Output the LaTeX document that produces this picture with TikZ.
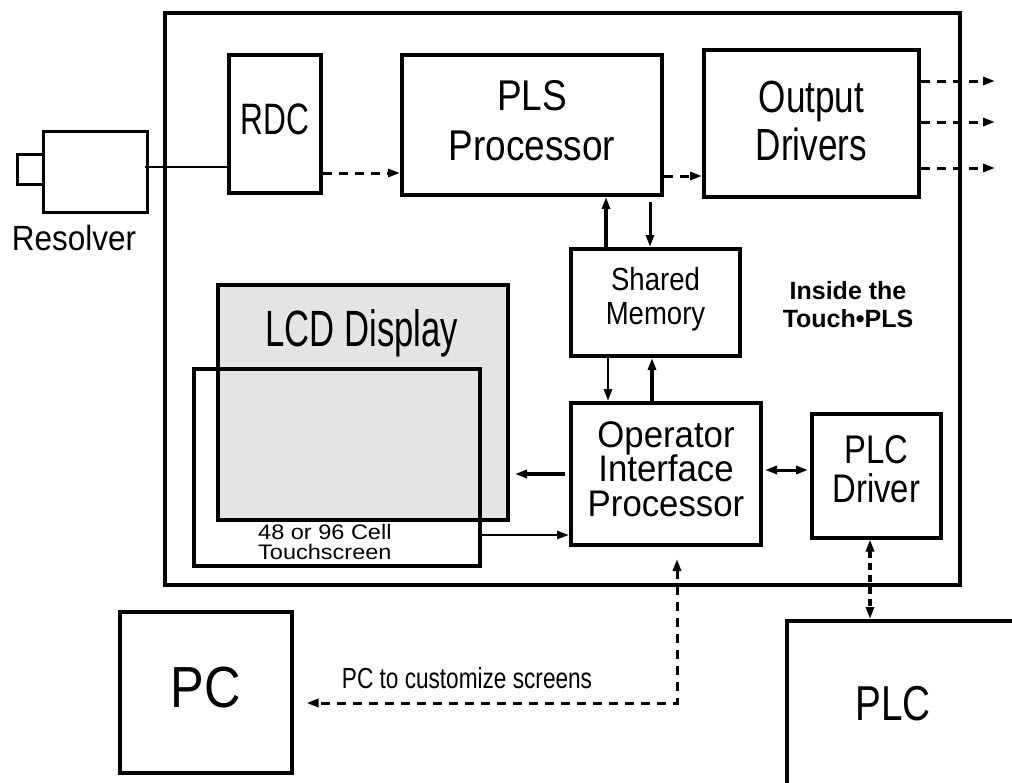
\documentclass[tikz,border=0pt]{standalone}
\usepackage{fontspec}
\setmainfont{Liberation Sans}
\usetikzlibrary{arrows.meta}
\definecolor{lcdgray}{HTML}{E4E4E4}
% condensed label font: stretch, size, baselineskip
\newcommand\lf[3]{\fontsize{#2}{#3}\selectfont\addfontfeature{FakeStretch=#1}}

\begin{document}
\begin{tikzpicture}[x=1pt,y=-1pt,
  box/.style={draw,line width=4pt,inner sep=0pt,align=center,anchor=north west},
  arr/.style={line width=3pt},
  dsh/.style={dash pattern=on 9pt off 7pt},
  >={Triangle[length=12pt,width=8pt]}]
\useasboundingbox (0,0) rectangle (1012,782);

% guide coordinates for connector rows and columns
\coordinate (y167) at (0,167);
\coordinate (y173) at (0,173);
\coordinate (y176) at (0,176);
\coordinate (y470) at (0,470);
\coordinate (y474) at (0,474);
\coordinate (y535) at (0,535);
\coordinate (y703) at (0,703);
\coordinate (x606) at (606,0);
\coordinate (x650) at (650,0);
\coordinate (x608) at (608,0);
\coordinate (x652) at (652,0);
\coordinate (x677) at (677,0);
\coordinate (x870) at (870,0);
\coordinate (o1) at (995,81);
\coordinate (o2) at (995,122);
\coordinate (o3) at (995,168);

% enclosure of the unit
\node[box,minimum width=795pt,minimum height=572pt] (tpls) at (163,11) {};

% resolver
\node[box,line width=3pt,minimum width=26pt,minimum height=30pt] (shaft) at (16,153) {};
\node[box,line width=3pt,minimum width=104pt,minimum height=81pt] (res) at (42,130) {};
\node[font=\lf{0.9}{35}{40},anchor=base] (reslabel) at (74,250) {Resolver};

% processing blocks
\node[box,minimum width=92pt,minimum height=138pt,text depth=10pt,font=\lf{0.72}{44}{50}] (rdc) at (227,53) {RDC};
\node[box,minimum width=260pt,minimum height=140pt,text depth=10pt,font=\lf{0.86}{43}{50}] (pls) at (400,53) {PLS\\Processor};
\node[box,minimum width=215pt,minimum height=147pt,text depth=6pt,font=\lf{0.78}{45}{48}] (out) at (702,48) {Output\\Drivers};
\node[box,minimum width=169pt,minimum height=107pt,text depth=14pt,font=\lf{0.86}{32}{34}] (sm) at (569,247) {Shared\\Memory};
\node[box,minimum width=190pt,minimum height=142pt,text depth=10pt,font=\lf{0.94}{37}{34.5}] (op) at (569,401) {Operator\\Interface\\Processor};
\node[box,line width=3.5pt,minimum width=129pt,minimum height=124pt,text depth=13pt,font=\lf{0.82}{40}{39}] (drv) at (810,412) {PLC\\Driver};

% display and touchscreen overlay
\node[box,fill=lcdgray,minimum width=290pt,minimum height=235pt] (lcd) at (216,283) {};
\node[font=\lf{0.68}{51}{55},anchor=base] (lcdlabel) at (362,346) {LCD Display};
\node[box,line width=3.5pt,minimum width=286pt,minimum height=197pt] (touch) at (192,367) {};
\node[font=\lf{1.12}{21}{20},align=left,anchor=north west,inner sep=0pt] (touchlabel) at (258,524) {48 or 96 Cell\\Touchscreen};

\node[font=\bfseries\fontsize{25}{28}\selectfont,align=center,anchor=north,inner sep=0pt] (inside) at (848,281) {Inside the\\Touch•PLS};

% external equipment
\node[box,line width=3.5pt,minimum width=172pt,minimum height=161pt,text depth=10pt,font=\lf{0.87}{58}{60}] (pc) at (118,610) {PC};
\node[box,minimum width=260pt,minimum height=200pt] (plc) at (785,619) {};
\node[font=\lf{0.79}{49}{55}] (plclabel) at (893,704) {PLC};

% connectors
\draw[line width=2pt] ([xshift=-4pt]res.east |- y167) -- (rdc.west |- y167);
\draw[arr,dsh,->] (rdc.east |- y173) -- (pls.west |- y173);
\draw[arr,dsh,->] (pls.east |- y176) -- (out.west |- y176);
\draw[arr,dsh,->] (out.east |- o1) -- (o1);
\draw[arr,dsh,->] (out.east |- o2) -- (o2);
\draw[arr,dsh,->] (out.east |- o3) -- (o3);

\draw[line width=3.5pt,->] (sm.north -| x606) -- (pls.south -| x606);
\draw[arr,->,shorten <=5pt] (pls.south -| x650) -- (sm.north -| x650);
\draw[line width=2.5pt,->] (sm.south -| x608) -- (op.north -| x608);
\draw[line width=4pt,->] (op.north -| x652) -- (sm.south -| x652);

\draw[line width=4pt,->,shorten <=4pt,shorten >=5pt] (op.west |- y474) -- (lcd.east |- y474);
\draw[line width=2.5pt,->] (touch.east |- y535) -- (op.west |- y535);
\draw[arr,<->,shorten <=2pt,shorten >=2pt] (op.east |- y470) -- (drv.west |- y470);
\draw[line width=4pt,dash pattern=on 7pt off 5pt,<->] (drv.south -| x870) -- (plc.north -| x870);
\draw[arr,dsh,<->,shorten <=12pt,shorten >=13pt] (op.south -| x677) |- (pc.east |- y703);
\node[font=\lf{0.78}{29}{32},anchor=base] (pclabel) at (467,688) {PC to customize screens};
\end{tikzpicture}
\end{document}
